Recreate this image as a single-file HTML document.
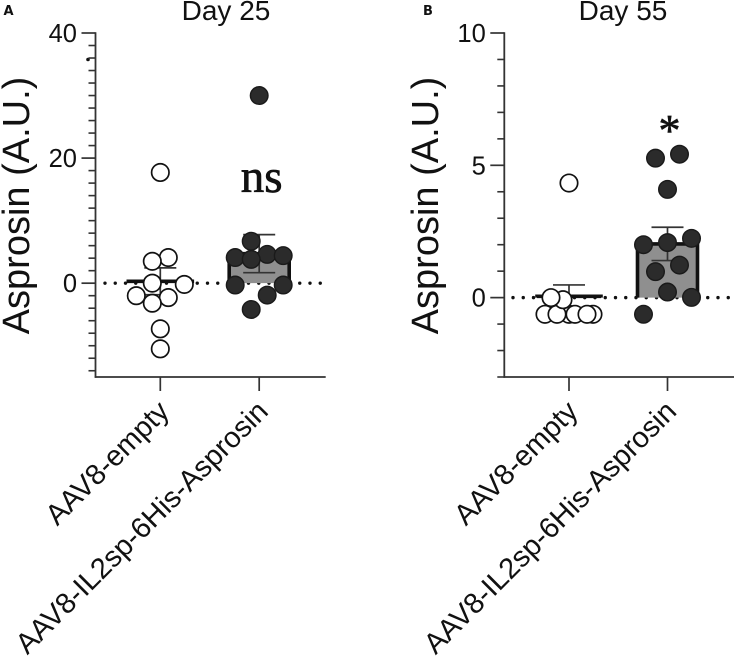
<!DOCTYPE html>
<html lang="en">
<head>
<meta charset="utf-8">
<title>Asprosin Day 25 and Day 55</title>
<style>
html,body{margin:0;padding:0;background:#fff;width:736px;height:659px;overflow:hidden}
svg{display:block}
text{font-family:"Liberation Sans",sans-serif;fill:#111}
</style>
</head>
<body>
<svg id="figure" xmlns="http://www.w3.org/2000/svg" width="736" height="659" viewBox="0 0 736 659">
<rect x="0" y="0" width="736" height="659" fill="#fff"/>
<text x="3.5" y="15.2" style="font-family:'DejaVu Sans',sans-serif;font-weight:700;font-size:13px">A</text>
<text x="423" y="15.2" style="font-family:'DejaVu Sans',sans-serif;font-weight:700;font-size:13px">B</text>
<text x="226" y="20" text-anchor="middle" font-size="28">Day 25</text>
<text x="623" y="20" text-anchor="middle" font-size="28">Day 55</text>
<text transform="translate(29 205.5) rotate(-90)" text-anchor="middle" font-size="38">Asprosin (A.U.)</text>
<text transform="translate(438 205.5) rotate(-90)" text-anchor="middle" font-size="38">Asprosin (A.U.)</text>
<text x="261.7" y="192" text-anchor="middle" font-size="47" stroke="#111" stroke-width="0.7" style="font-family:'Liberation Serif',serif">ns</text>
<text x="669.5" y="145" text-anchor="middle" font-size="44" stroke="#111" stroke-width="0.7" style="font-family:'Liberation Serif',serif">*</text>
<circle cx="88" cy="59.5" r="1.8" fill="#111"/>
<g id="panel-a"></g>
<g id="panel-b"></g>
</svg>
<script>
var categories = ["AAV8-empty", "AAV8-IL2sp-6His-Asprosin"];

var dayAEmptyValues = [17.7, 4.1, 3.5, 0, -0.2, -2, -2.3, -3.2, -7.3, -10.5];
var dayAEmptySlots = [0, 1, -1, -1, 3, -3, 1, -1, 0, 0];
var dayATreatedValues = [30, 6.7, 4.6, 4.4, 4.1, 3.8, -0.3, -0.3, -1.9, -4.2];
var dayATreatedSlots = [0, -1, 1, 3, -3, -1, -3, 3, 1, -1];
var dayAMeans = [0.3, 4.72];
var dayAErrors = [2.15, 3.04];
var dayAMajorTicks = [0, 20, 40];
var dayAMinorTicks = [-14, -12, -10, -8, -6, -4, -2, 2, 4, 6, 8, 10, 12, 14, 16, 18, 22, 24, 26, 28, 30, 32, 34, 36, 38];
var dayADomain = [-15, 40];

var dayBEmptyValues = [4.33, -0.63, -0.63, -0.63, -0.63, -0.63, -0.63, -0.08, 0];
var dayBEmptySlots = [0, 2, 0, 0.5, -2, -1, 1.5, -0.5, -1.5];
var dayBTreatedValues = [5.27, 5.42, 4.09, 2.0, 2.08, 2.24, 1.23, 0.98, 0.21, 0.01, -0.63];
var dayBTreatedSlots = [-1, 1, 0, -2, 0, 2, 1, -1, 0, 2, -2];
var dayBMeans = [0.05, 2.03];
var dayBErrors = [0.43, 0.63];
var dayBMajorTicks = [0, 5, 10];
var dayBMinorTicks = [-3, -2, -1, 1, 2, 3, 4, 6, 7, 8, 9];
var dayBDomain = [-3, 10];

var SVG_NS = "http://www.w3.org/2000/svg";
var INK = "#333";

function mk(parent, tag, attrs, txt) {
  var el = document.createElementNS(SVG_NS, tag);
  for (var k in attrs) { el.setAttribute(k, attrs[k]); }
  if (txt !== undefined) { el.textContent = txt; }
  parent.appendChild(el);
  return el;
}

function drawPanel(root, o) {
  function y(v) {
    return o.bottom - (v - o.domain[0]) / (o.domain[1] - o.domain[0]) * (o.bottom - o.top);
  }
  function x(i, slot) {
    return o.firstCenter + i * o.gap + (slot || 0) * o.slotWidth;
  }

  var i, el;

  // dotted zero line
  el = mk(root, "line", {x1: o.dotStart, x2: o.axisRight, y1: y(0), y2: y(0), stroke: "#111", "stroke-width": 3.4, "stroke-linecap": "round", "stroke-dasharray": "0 10.25"});
  
  

  // axes
  el = mk(root, "line", {x1: o.axisLeft, x2: o.axisLeft, y1: o.top - 0.8, y2: o.bottom + 0.8, stroke: INK, "stroke-width": 1.8});
  
  
  el = mk(root, "line", {x1: o.axisLeft - 0.8, x2: o.axisRight, y1: o.bottom, y2: o.bottom, stroke: INK, "stroke-width": 1.8});
  
  

  o.minorTicks.forEach(function (t) {
    var tick = mk(root, "line", {x1: o.axisLeft - 7, x2: o.axisLeft, y1: y(t), y2: y(t), stroke: INK, "stroke-width": 1.6});
    
    
  });
  o.majorTicks.forEach(function (t) {
    var tick = mk(root, "line", {x1: o.axisLeft - 14, x2: o.axisLeft, y1: y(t), y2: y(t), stroke: INK, "stroke-width": 1.7});
    
    
    var label = mk(root, "text", {x: o.axisLeft - 18.5, y: y(t) + 9, "text-anchor": "end", "font-size": 25.5}, String(t));
    
    
  });

  // x ticks and category labels
  categories.forEach(function (name, c) {
    var tick = mk(root, "line", {x1: x(c), x2: x(c), y1: o.bottom, y2: o.bottom + 14, stroke: INK, "stroke-width": 1.7});
    
    
    var lx = x(c) + 10.5, ly = o.bottom + 36;
    var label = mk(root, "text", {transform: "translate(" + lx + " " + ly + ") rotate(-45)", "text-anchor": "end", "font-size": 29}, name);
    
    
  });

  // bars
  for (i = 0; i < 2; i++) {
    var hw = i === 0 ? o.emptyHalf : o.barHalf;
    var d = "M" + (x(i) - hw) + " " + y(0) + "V" + y(o.means[i]) + "H" + (x(i) + hw) + "V" + y(0);
    var bar = mk(root, "path", {d: d, fill: i === 0 ? "none" : "#8f8f8f", stroke: "#111", "stroke-width": 3.6});
    
    

    var stem = mk(root, "line", {x1: x(i), x2: x(i), y1: y(o.means[i] + o.errors[i]), y2: y(o.means[i] - o.errors[i]), stroke: INK, "stroke-width": 1.7});
    
    
    [1, -1].forEach(function (sign) {
      var v = o.means[i] + sign * o.errors[i];
      var cap = mk(root, "line", {x1: x(i) - 16, x2: x(i) + 16, y1: y(v), y2: y(v), stroke: INK, "stroke-width": 1.7});
      
      
    });
  }

  // points
  o.emptyValues.forEach(function (v, k) {
    var p = mk(root, "circle", {cx: x(0, o.emptySlots[k]), cy: y(v), r: 8.7, fill: "#fff", stroke: "#111", "stroke-width": 1.7});
    
    
  });
  o.treatedValues.forEach(function (v, k) {
    var p = mk(root, "circle", {cx: x(1, o.treatedSlots[k]), cy: y(v), r: 8.8, fill: "#2b2b2b", stroke: "#1a1a1a", "stroke-width": 1.4});
    
    
  });
}

drawPanel(document.getElementById("panel-a"), {
  domain: dayADomain, top: 33, bottom: 377, axisLeft: 95.5, axisRight: 325.7, dotStart: 105,
  firstCenter: 160.3, gap: 98.9, slotWidth: 8, barHalf: 30, emptyHalf: 32,
  means: dayAMeans, errors: dayAErrors, majorTicks: dayAMajorTicks, minorTicks: dayAMinorTicks,
  emptyValues: dayAEmptyValues, emptySlots: dayAEmptySlots,
  treatedValues: dayATreatedValues, treatedSlots: dayATreatedSlots
});
drawPanel(document.getElementById("panel-b"), {
  domain: dayBDomain, top: 33, bottom: 377, axisLeft: 504.3, axisRight: 734, dotStart: 513,
  firstCenter: 569, gap: 98.5, slotWidth: 12, barHalf: 30, emptyHalf: 32,
  means: dayBMeans, errors: dayBErrors, majorTicks: dayBMajorTicks, minorTicks: dayBMinorTicks,
  emptyValues: dayBEmptyValues, emptySlots: dayBEmptySlots,
  treatedValues: dayBTreatedValues, treatedSlots: dayBTreatedSlots
});
</script>
</body>
</html>
